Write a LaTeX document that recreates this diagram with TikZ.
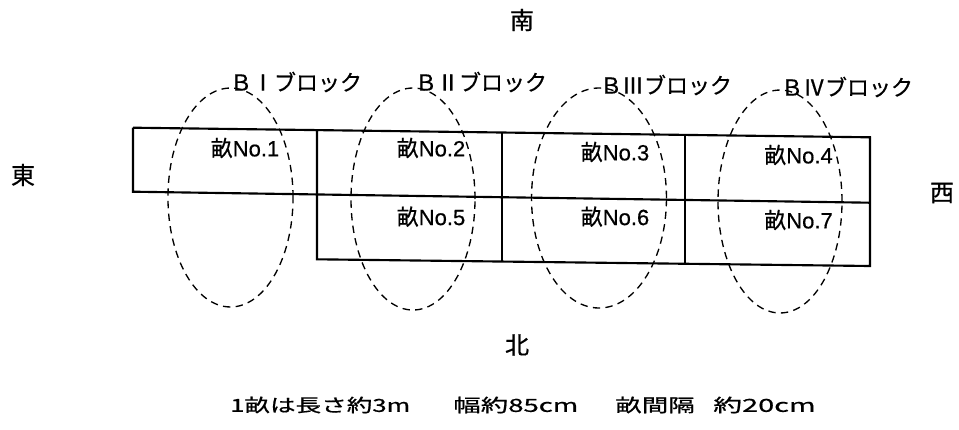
\documentclass[tikz,border=0pt]{standalone}
\usepackage{graphicx}
\usepackage{fontspec}
\setmainfont[FakeBold=0.6]{Liberation Sans}
\newfontfamily\cjk[FakeBold=0.6]{Noto Sans CJK JP}
\begin{document}
\begin{tikzpicture}[x=0.75pt,y=-0.75pt,
  grid/.style={line width=1.6pt, line join=miter},
  blockring/.style={line width=1pt, dash pattern=on 5.5pt off 4pt},
  dir/.style={font=\cjk\fontsize{18}{18}\selectfont, inner sep=0pt},
  cell/.style={font=\fontsize{16.5}{16.5}\selectfont, inner sep=0pt},
  blk/.style={font=\cjk\fontsize{16.5}{16.5}\selectfont, inner sep=0pt},
  note/.style={font=\cjk\fontsize{13.5}{13.5}\selectfont, inner sep=0pt, anchor=west}]
\useasboundingbox (0,0) rectangle (959,429);

% beds grid
\draw[grid] (133,127.7) -- (870,137.3) -- (870,266) -- (317,259.3) -- (317,130.1);
\draw[grid] (133,127.7) -- (133,191.7) -- (870,202.7);
\draw[grid] (502,132.5) -- (502,261.6);
\draw[grid] (685,134.9) -- (685,263.8);

% block rings
\draw[blockring] (230.5,197.5) ellipse [x radius=46.9pt, y radius=82.1pt];
\draw[blockring] (413,199) ellipse [x radius=46.5pt, y radius=83.25pt];
\draw[blockring] (599,198) ellipse [x radius=50.6pt, y radius=82.5pt];
\draw[blockring] (780,201.5) ellipse [x radius=46.5pt, y radius=83.6pt];

% directions
\node[dir] (south) at (522,20) {南};
\node[dir] (east) at (23,175) {東};
\node[dir] (west) at (942,193) {西};
\node[dir] (north) at (517,345) {北};

% block labels
\node[blk] (b1) at (296,82) {ＢⅠブロック};
\node[blk] (b2) at (481,82) {ＢⅡブロック};
\node[blk] (b3) at (666,85) {ＢⅢブロック};
\node[blk] (b4) at (847,87) {ＢⅣブロック};

% bed labels
\node[cell] (p1) at (245,148) {{\cjk 畝}No.1};
\node[cell] (p2) at (431,148) {{\cjk 畝}No.2};
\node[cell] (p3) at (615,152) {{\cjk 畝}No.3};
\node[cell] (p4) at (798.5,155) {{\cjk 畝}No.4};
\node[cell] (p5) at (431,216.7) {{\cjk 畝}No.5};
\node[cell] (p6) at (615,216.7) {{\cjk 畝}No.6};
\node[cell] (p7) at (798.5,220) {{\cjk 畝}No.7};

% note
\node[note] (n1) at (230,405) {\resizebox{135pt}{\height}{1畝は長さ約3m}};
\node[note] (n2) at (453,405) {\resizebox{93.75pt}{\height}{幅約85cm}};
\node[note] (n3) at (615,405) {\resizebox{59.7pt}{\height}{畝間隔}};
\node[note] (n4) at (713,405) {\resizebox{76.8pt}{\height}{約20cm}};
\end{tikzpicture}
\end{document}
